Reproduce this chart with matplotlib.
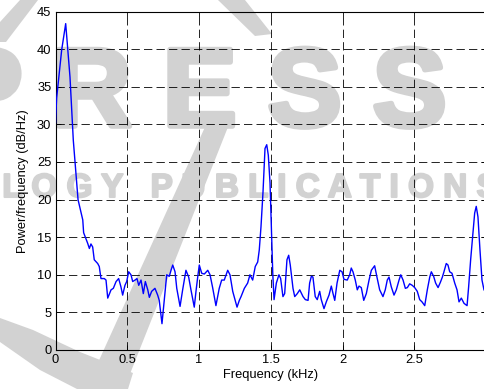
import matplotlib
matplotlib.use('Agg')
import matplotlib.pyplot as plt
from matplotlib.patches import Polygon
from matplotlib.transforms import Affine2D
import matplotlib.patheffects as pe

# ---------------- data ----------------
freq_khz = [0.000, 0.008, 0.043, 0.071, 0.101, 0.124, 0.157, 0.190, 0.196, 0.224,
            0.236, 0.247, 0.259, 0.270, 0.294, 0.305, 0.317, 0.340, 0.352, 0.364,
            0.387, 0.403, 0.422, 0.440, 0.456, 0.468, 0.484, 0.496, 0.510, 0.526,
            0.538, 0.554, 0.568, 0.580, 0.596, 0.612, 0.626, 0.643, 0.654, 0.670,
            0.693, 0.712, 0.723, 0.742, 0.758, 0.775, 0.793, 0.805, 0.817, 0.833,
            0.845, 0.868, 0.886, 0.909, 0.928, 0.944, 0.967, 0.979, 0.991, 1.002,
            1.019, 1.037, 1.061, 1.077, 1.095, 1.118, 1.141, 1.158, 1.176, 1.200,
            1.216, 1.235, 1.265, 1.281, 1.293, 1.316, 1.339, 1.355, 1.374, 1.392,
            1.409, 1.420, 1.432, 1.446, 1.460, 1.472, 1.483, 1.495, 1.507, 1.514,
            1.523, 1.539, 1.557, 1.569, 1.585, 1.597, 1.613, 1.625, 1.636, 1.655,
            1.667, 1.685, 1.702, 1.725, 1.741, 1.760, 1.771, 1.783, 1.794, 1.810,
            1.824, 1.841, 1.852, 1.871, 1.887, 1.906, 1.922, 1.934, 1.946, 1.962,
            1.981, 1.997, 2.010, 2.033, 2.050, 2.061, 2.073, 2.089, 2.103, 2.115,
            2.131, 2.148, 2.166, 2.185, 2.201, 2.224, 2.240, 2.259, 2.282, 2.298,
            2.312, 2.324, 2.340, 2.359, 2.375, 2.394, 2.406, 2.422, 2.438, 2.452,
            2.468, 2.486, 2.503, 2.521, 2.538, 2.554, 2.573, 2.591, 2.608, 2.619,
            2.635, 2.649, 2.666, 2.682, 2.696, 2.707, 2.723, 2.735, 2.747, 2.763,
            2.782, 2.798, 2.812, 2.828, 2.847, 2.868, 2.879, 2.893, 2.909, 2.921,
            2.932, 2.944, 2.958, 2.972, 2.986]
psd_db = [30.2, 33.5, 39.9, 43.4, 36.3, 27.9, 20.0, 17.3, 15.6, 14.2,
          13.5, 14.1, 13.7, 12.0, 11.5, 11.1, 9.5, 9.5, 9.3, 6.9,
          8.0, 8.2, 9.1, 9.5, 8.4, 7.3, 8.6, 9.1, 10.4, 10.0,
          9.1, 9.3, 9.5, 8.6, 9.3, 7.5, 9.1, 8.0, 7.0, 7.8,
          8.2, 7.3, 6.6, 3.5, 6.6, 10.0, 9.8, 10.6, 11.3, 10.4,
          8.2, 5.8, 8.0, 10.6, 9.7, 8.0, 5.7, 7.8, 9.7, 11.3,
          10.2, 10.1, 10.6, 10.0, 8.3, 5.9, 8.2, 9.3, 9.3, 10.6,
          10.0, 7.8, 5.7, 6.6, 7.1, 8.2, 8.9, 10.0, 9.3, 11.1,
          11.7, 13.3, 16.4, 21.0, 26.8, 27.3, 25.9, 22.2, 14.6, 10.2,
          6.7, 8.9, 10.0, 9.5, 7.1, 7.5, 12.0, 12.6, 11.3, 8.2,
          7.1, 7.5, 8.0, 7.1, 6.7, 6.6, 8.9, 9.8, 9.7, 7.1,
          6.7, 7.8, 6.7, 5.5, 6.4, 7.3, 8.5, 7.5, 6.6, 8.9,
          10.6, 10.4, 9.4, 9.3, 10.0, 10.9, 10.4, 9.3, 8.0, 8.5,
          8.3, 6.6, 7.5, 9.3, 10.6, 11.2, 9.7, 8.0, 7.1, 8.0,
          9.3, 9.7, 8.4, 7.3, 8.0, 9.3, 10.0, 9.3, 8.2, 8.3,
          8.8, 8.6, 8.3, 7.8, 6.7, 6.4, 5.9, 8.0, 9.7, 10.4,
          9.8, 8.9, 8.3, 9.0, 9.7, 10.4, 11.5, 11.3, 10.4, 10.2,
          8.9, 8.0, 6.4, 6.9, 6.2, 5.9, 8.4, 12.0, 15.5, 18.2,
          19.1, 17.7, 13.3, 9.3, 8.0]

xticks = [0, 0.5, 1, 1.5, 2, 2.5]
xtick_labels = ['0', '0.5', '1', '1.5', '2', '2.5']
yticks = [0, 5, 10, 15, 20, 25, 30, 35, 40, 45]
xlabel = 'Frequency (kHz)'
ylabel = 'Power/frequency (dB/Hz)'
watermark_big = 'P R E S S'
watermark_small = 'T E C H N O L O G Y   P U B L I C A T I O N S'

# ---------------- figure ----------------
plt.rcParams['font.family'] = ['Liberation Sans', 'DejaVu Sans']
plt.rcParams['lines.scale_dashes'] = False

W, H = 484, 389
fig = plt.figure(figsize=(W / 100, H / 100), dpi=100, facecolor='white')

# pixel (from top-left) -> figure transform for the watermark
px = Affine2D().scale(1 / W, -1 / H).translate(0, 1) + fig.transFigure
wm = '#d2d2d2'

# watermark shapes
shapes = [
    [(205, 127), (228, 127), (124, 389), (86, 389)],
    [(0, 318), (33, 330), (80, 352), (133, 373), (128, 389), (77, 389), (40, 370), (0, 342)],
    [(20, 0), (38, 0), (6, 42), (0, 42), (0, 22)],
    [(218, 0), (245, 0), (272, 34), (255, 36)],
]
for pts in shapes:
    fig.add_artist(Polygon(pts, closed=True, transform=px, facecolor=wm,
                           edgecolor='none', zorder=-2))

fig.text(-51.5 / W, 1 - 126 / H, watermark_big, fontsize=80, fontweight='bold',
         color=wm, ha='left', va='baseline', zorder=-1,
         path_effects=[pe.withStroke(linewidth=4, foreground=wm)])
fig.text(-194 / W, 1 - 197 / H, watermark_small,
         fontsize=24, fontweight='bold', color=wm, ha='left', va='baseline', zorder=-1,
         path_effects=[pe.withStroke(linewidth=1.5, foreground=wm)])

# axes
left, right, top, bottom = 55.5, 486.0, 11.6, 350.0
ax = fig.add_axes([left / W, (H - bottom) / H, (right - left) / W, (bottom - top) / H])
ax.set_facecolor('none')

ax.plot(freq_khz, psd_db, color='#0000ff', linewidth=1.0, zorder=3)

ax.set_xlim(0, 3)
ax.set_ylim(0, 45)
ax.set_xticks(xticks, xtick_labels)
ax.set_yticks(yticks)

ax.grid(True, color='black', linestyle=(0, (6.0, 3.0)), linewidth=0.6)
ax.set_axisbelow(True)
ax.tick_params(direction='in', length=3.5, width=0.6, top=True, right=True,
               labelsize=9.3, pad=3, colors='black')
for s in ax.spines.values():
    s.set_linewidth(0.8)
    s.set_color('black')

ax.set_xlabel(xlabel, fontsize=9.3, va='top')
ax.xaxis.set_label_coords(0.5, (bottom - 369.0) / (bottom - top))
ax.set_ylabel(ylabel, fontsize=9.3, va='center')
ax.yaxis.set_label_coords((23.5 - left) / (right - left), 0.5)

fig.savefig('out.png', dpi=100, facecolor='white')
